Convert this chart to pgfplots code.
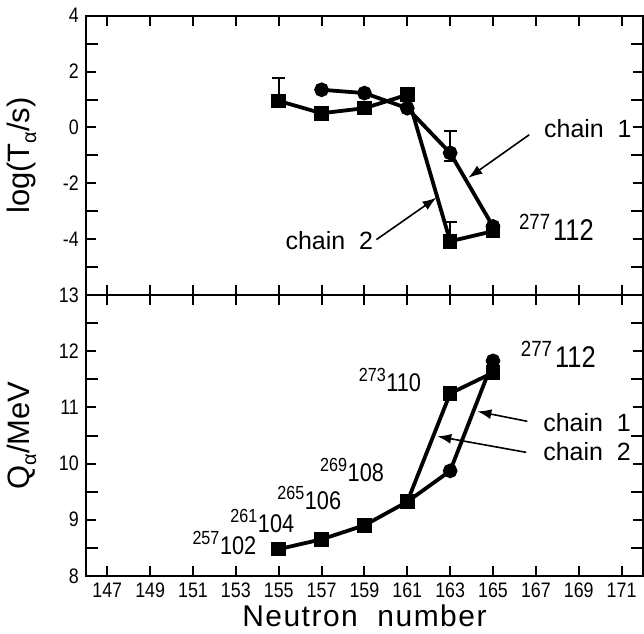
\documentclass[border=0pt]{standalone}
\usepackage{fontspec}
\setmainfont{Liberation Sans}
\newfontfamily\cond{Liberation Sans}[FakeStretch=0.85]
\newfontfamily\wide{Liberation Sans}[LetterSpace=5]
\usepackage{pgfplots}
\pgfplotsset{compat=1.18}
\usetikzlibrary{arrows.meta}

\newcommand{\nuc}[2]{{\cond\fontsize{9.5}{9.5}\selectfont\raisebox{5pt}{#1}}\kern0.3pt{\cond\fontsize{12.8}{12.8}\selectfont #2}}
\newcommand{\bignuc}[2]{{\cond\fontsize{11}{11}\selectfont\raisebox{5.5pt}{#1}}\kern1.5pt{\cond\fontsize{15}{15}\selectfont #2}}
\newcommand{\chainlab}[1]{{\fontsize{12.5}{13}\selectfont chain\ \ #1}}

\pgfplotsset{
  myaxis/.style={
    width=279pt, scale only axis,
    xmin=146, xmax=172,
    xtick={147,149,...,171},
    tick align=inside,
    xtick pos=both, ytick pos=both,
    axis line style={line width=1pt},
    tick style={line width=1pt, black},
    major tick length=5pt, minor tick length=6pt,
    ticklabel style={font=\cond\fontsize{10.5}{11}\selectfont},
    /pgf/number format/assume math mode=true,
    label style={font=\fontsize{15.5}{16}\selectfont},
    ylabel style={at={(axis description cs:-0.115,0.5)}, anchor=center},
    clip=false,
  },
  chain/.style={line width=1.9pt, black},
  ebar/.style={draw=none, mark=none, forget plot,
    error bars/.cd, y dir=both, y explicit,
    error bar style={line width=1pt, black},
    error mark=-,
    error mark options={rotate=90, mark size=3.2pt, line width=1pt, black}},
}

\begin{document}
\begin{tikzpicture}
% ---------- top panel ----------
\begin{axis}[myaxis,
  at={(0,140.5pt)}, anchor=south west,
  height=140pt,
  ymin=-6, ymax=4,
  ytick={-4,-2,0,2,4},
  minor ytick={-5,-3,-1,1,3},
  xticklabels={},
  ylabel={log(T\raisebox{-0.4ex}{\fontsize{10}{10}\selectfont α}/s)},
]
% chain 2 (squares)
\addplot[chain, mark=square*, mark size=2.7pt, mark options={solid}]
  coordinates {(155,0.95) (157,0.51) (159,0.69) (161,1.17) (163,-4.07) (165,-3.71)};
\addplot[ebar] coordinates {(155,0.95) += (0,0.81) -= (0,0.14) (163,-4.07) += (0,0.68) -= (0,0.15)};
% chain 1 (circles)
\addplot[chain, mark=*, mark size=2.7pt, mark options={solid}]
  coordinates {(157,1.35) (159,1.23) (161,0.69) (163,-0.91) (165,-3.54)};
\addplot[ebar] coordinates {(163,-0.91) += (0,0.77) -= (0,0.30)};

\node[anchor=base west] at (axis cs:167.06,-0.37) {\chainlab{1}};
\node[anchor=base west] at (axis cs:154.99,-4.37) {\chainlab{2}};
\draw[line width=0.8pt, -{Latex[length=7pt,width=5pt]}] (axis cs:166.69,-0.26) -- (axis cs:163.85,-1.80);
\draw[line width=0.8pt, -{Latex[length=7pt,width=5pt]}] (axis cs:159.56,-4.01) -- (axis cs:162.36,-2.51);
\node[anchor=base east, inner sep=0pt] at (axis cs:169.72,-4.05) {\bignuc{277}{112}};
\end{axis}

% ---------- bottom panel ----------
\begin{axis}[myaxis,
  at={(0,0)}, anchor=south west,
  height=140.5pt,
  ymin=8, ymax=13,
  ytick={8,9,...,13},
  minor ytick={8.5,9.5,...,12.5},
  xlabel={Neutron\ \ number},
  xlabel style={at={(axis description cs:0.5,-0.181)}, anchor=base, font=\wide\fontsize{15}{15}\selectfont, inner sep=0pt},
  ylabel={Q\raisebox{-0.4ex}{\fontsize{10}{10}\selectfont α}/MeV},
]
% chain 2 (squares)
\addplot[chain, mark=square*, mark size=2.7pt, mark options={solid}]
  coordinates {(155,8.475) (157,8.65) (159,8.90) (161,9.32) (163,11.25) (165,11.62)};
% chain 1 (circles)
\addplot[chain, mark=*, mark size=2.7pt, mark options={solid}]
  coordinates {(161,9.32) (163,9.87) (165,11.83)};

\node[anchor=base east, inner sep=0pt] at (axis cs:153.97,8.386) {\nuc{257}{102}};
\node[anchor=base east, inner sep=0pt] at (axis cs:155.74,8.78) {\nuc{261}{104}};
\node[anchor=base east, inner sep=0pt] at (axis cs:157.93,9.187) {\nuc{265}{106}};
\node[anchor=base east, inner sep=0pt] at (axis cs:159.93,9.685) {\nuc{269}{108}};
\node[anchor=base east, inner sep=0pt] at (axis cs:161.66,11.286) {\nuc{273}{110}};
\node[anchor=base east, inner sep=0pt] at (axis cs:169.81,11.71) {\bignuc{277}{112}};

\node[anchor=base west] at (axis cs:167.02,10.575) {\chainlab{1}};
\node[anchor=base west] at (axis cs:167.02,10.06) {\chainlab{2}};
\draw[line width=0.8pt, -{Latex[length=7pt,width=5pt]}] (axis cs:166.60,10.753) -- (axis cs:164.27,10.93);
\draw[line width=0.8pt, -{Latex[length=7pt,width=5pt]}] (axis cs:166.55,10.20) -- (axis cs:162.40,10.486);
\end{axis}

\path (-43pt,-29pt) rectangle (279pt,288.35pt);
\end{tikzpicture}
\end{document}
